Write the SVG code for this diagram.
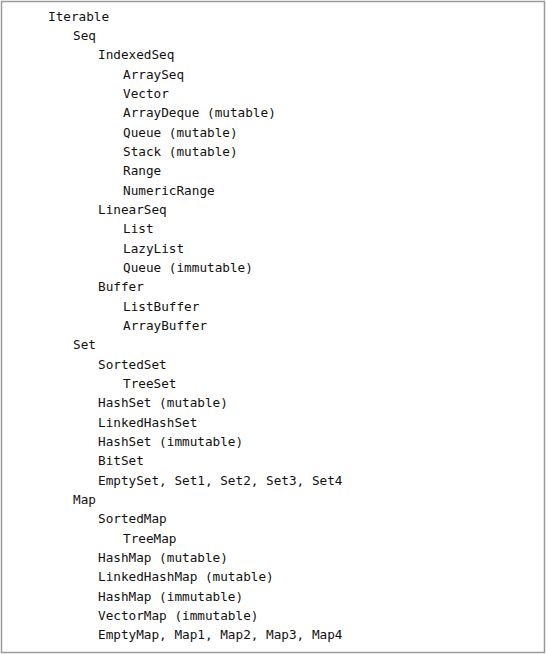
<svg xmlns="http://www.w3.org/2000/svg" width="546" height="654" viewBox="0 0 546 654">
  <style>
    .t { font-family: "DejaVu Sans Mono", "Liberation Mono", monospace; font-size: 12.7px; fill: #111111; }
  </style>
  <rect x="0" y="0" width="546" height="654" fill="#ffffff"/>
  <rect x="1.5" y="1.5" width="543" height="651" fill="none" stroke="#9a9a9a" stroke-width="1.5"/>
  <!-- collection hierarchy, one line per type; indent 25px per level -->
  <g id="tree">
    <text class="t" x="48" y="20.5">Iterable</text>
    <text class="t" x="73" y="39.8">Seq</text>
    <text class="t" x="98" y="59.2">IndexedSeq</text>
    <text class="t" x="123" y="78.5">ArraySeq</text>
    <text class="t" x="123" y="97.9">Vector</text>
    <text class="t" x="123" y="117.2">ArrayDeque (mutable)</text>
    <text class="t" x="123" y="136.5">Queue (mutable)</text>
    <text class="t" x="123" y="155.9">Stack (mutable)</text>
    <text class="t" x="123" y="175.2">Range</text>
    <text class="t" x="123" y="194.6">NumericRange</text>
    <text class="t" x="98" y="213.9">LinearSeq</text>
    <text class="t" x="123" y="233.2">List</text>
    <text class="t" x="123" y="252.6">LazyList</text>
    <text class="t" x="123" y="271.9">Queue (immutable)</text>
    <text class="t" x="98" y="291.3">Buffer</text>
    <text class="t" x="123" y="310.6">ListBuffer</text>
    <text class="t" x="123" y="329.9">ArrayBuffer</text>
    <text class="t" x="73" y="349.3">Set</text>
    <text class="t" x="98" y="368.6">SortedSet</text>
    <text class="t" x="123" y="388.0">TreeSet</text>
    <text class="t" x="98" y="407.3">HashSet (mutable)</text>
    <text class="t" x="98" y="426.6">LinkedHashSet</text>
    <text class="t" x="98" y="446.0">HashSet (immutable)</text>
    <text class="t" x="98" y="465.3">BitSet</text>
    <text class="t" x="98" y="484.7">EmptySet, Set1, Set2, Set3, Set4</text>
    <text class="t" x="73" y="504.0">Map</text>
    <text class="t" x="98" y="523.3">SortedMap</text>
    <text class="t" x="123" y="542.7">TreeMap</text>
    <text class="t" x="98" y="562.0">HashMap (mutable)</text>
    <text class="t" x="98" y="581.4">LinkedHashMap (mutable)</text>
    <text class="t" x="98" y="600.7">HashMap (immutable)</text>
    <text class="t" x="98" y="620.0">VectorMap (immutable)</text>
    <text class="t" x="98" y="639.4">EmptyMap, Map1, Map2, Map3, Map4</text>
  </g>
</svg>
